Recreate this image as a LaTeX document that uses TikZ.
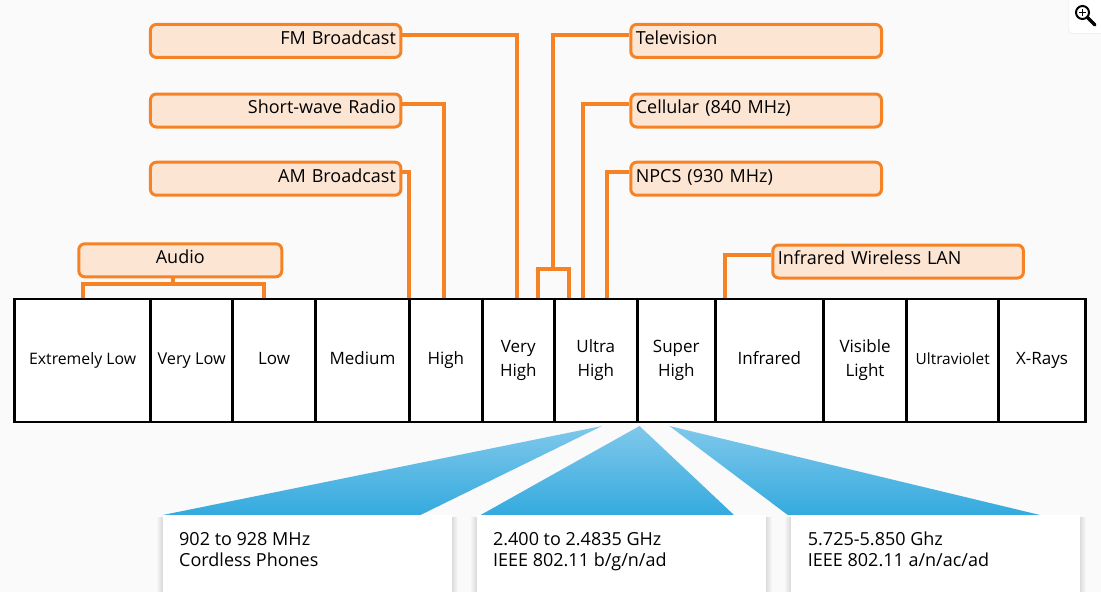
\documentclass[tikz,border=0pt]{standalone}
\usepackage{fontspec}
\setmainfont{Open Sans}
\usetikzlibrary{calc}
\definecolor{bgc}{RGB}{250,250,250}
\definecolor{org}{RGB}{245,131,38}
\definecolor{peach}{RGB}{253,229,211}
\definecolor{bluetop}{RGB}{128,200,235}
\definecolor{bluebot}{RGB}{52,170,222}
\definecolor{iconborder}{RGB}{232,232,232}
\pgfdeclarelayer{back}
\pgfdeclarelayer{wires}
\pgfsetlayers{back,wires,main}
\tikzset{
  tag/.style={draw=org, fill=peach, line width=3pt, rounded corners=6pt, minimum height=33pt,
    inner xsep=5pt, inner ysep=0pt, text height=10pt, text depth=3.4pt, font=\fontsize{18}{21}\selectfont},
  tagL/.style={tag, minimum width=250.5pt, text width=240.5pt, align=right},
  tagR/.style={tag, minimum width=250.7pt, text width=240.7pt, align=left},
  conn/.style={draw=org, line width=4pt},
  band/.style={draw=black, fill=white, line width=2.8pt, minimum height=123pt, inner sep=0pt},
  bandtxt/.style={font=\fontsize{17}{23.5}\selectfont, align=center, inner sep=0pt},
  smalltxt/.style={font=\fontsize{15.8}{20}\selectfont, inner sep=0pt},
  info/.style={fill=white, inner sep=0pt, minimum height=90pt, minimum width=289pt, anchor=north west},
  infotxt/.style={font=\fontsize{18}{21.7}\selectfont, align=left, inner sep=0pt, anchor=base west},
  fan/.style={top color=bluetop, bottom color=bluebot},
}
\begin{document}
\begin{tikzpicture}[x=1pt,y=-1pt]
\begin{pgfonlayer}{back}
\fill[bgc] (0,0) rectangle (1101,592);
\end{pgfonlayer}
\useasboundingbox (0,0) rectangle (1101,592);

% label boxes
\node[tagL] (fm) at (275.65,40.9) {FM Broadcast};
\node[tagL] (sw) at (275.65,110.5) {Short-wave Radio};
\node[tagL] (am) at (275.65,178.7) {AM Broadcast};
\node[tag, minimum width=203pt, align=center] (audio) at (180.3,260.3) {Audio};
\node[tagR] (tv) at (756.15,40.9) {Television};
\node[tagR] (cell) at (756.15,110.5) {Cellular (840 MHz)};
\node[tagR] (npcs) at (756.15,178.7) {NPCS (930 MHz)};
\node[tagR] (irlan) at (898.1,261.5) {Infrared Wireless LAN};

% band cells
\foreach \n/\a/\b in {c1/14.4/150.8, c2/150.8/232.5, c3/232.5/315.7, c4/315.7/409.3,
  c5/409.3/482.3, c6/482.3/554.3, c7/554.3/637.3, c8/637.3/715.3, c9/715.3/823.4,
  c10/823.4/906.7, c11/906.7/998.7, c12/998.7/1085.3}
  \node[band, minimum width={\b-\a}] (\n) at ({(\a+\b)/2},360.5) {};

\node[smalltxt, anchor=base] at ([yshift=-3.5pt]c1.center) {Extremely Low};
\node[smalltxt, anchor=base, font=\fontsize{16.3}{20}\selectfont] at ([yshift=-3.5pt]c2.center) {Very Low};
\node[bandtxt, anchor=base] at ([yshift=-3.5pt]c3.center) {Low};
\node[bandtxt, anchor=base] at ([yshift=-3.5pt]c4.center) {Medium};
\node[bandtxt, anchor=base] at ([yshift=-3.5pt]c5.center) {High};
\node[bandtxt] at ([yshift=0.2pt]c6.center) {Very\\High};
\node[bandtxt] at ([yshift=0.2pt]c7.center) {Ultra\\High};
\node[bandtxt] at ([yshift=0.2pt]c8.center) {Super\\High};
\node[bandtxt, anchor=base] at ([yshift=-3.5pt]c9.center) {Infrared};
\node[bandtxt] at ([yshift=0.2pt]c10.center) {Visible\\Light};
\node[smalltxt, anchor=base, font=\fontsize{15.4}{20}\selectfont] at ([yshift=-3.5pt]c11.center) {Ultraviolet};
\node[bandtxt, anchor=base] at ([yshift=-3.5pt]c12.center) {X-Rays};

% connectors
\begin{pgfonlayer}{wires}
\coordinate (fmEnd) at (517.3,299);
\coordinate (swEnd) at (443.7,299);
\coordinate (amEnd) at (408.5,299);
\coordinate (tvStem) at (553.3,269);
\coordinate (tvL) at (538.3,299);
\coordinate (tvR) at (569,299);
\coordinate (cellEnd) at (582.8,299);
\coordinate (npcsEnd) at (606.7,299);
\coordinate (irEnd) at (725,299);
\coordinate (audStem) at (173.3,284.3);
\coordinate (audL) at (82.7,299);
\coordinate (audR) at (264,299);
\draw[conn] ([yshift=5.9pt]fm.east) -| (fmEnd);
\draw[conn] ([yshift=6.2pt]sw.east) -| (swEnd);
\draw[conn] ([yshift=7pt]am.east) -| (amEnd);
\draw[conn] ([yshift=5.9pt]tv.west) -| (tvStem);
\draw[conn] (tvL) |- (tvStem) -| (tvR);
\draw[conn] ([yshift=6.2pt]cell.west) -| (cellEnd);
\draw[conn] ([yshift=7pt]npcs.west) -| (npcsEnd);
\draw[conn] ([yshift=6.5pt]irlan.west) -| (irEnd);
\draw[conn] ([xshift=-7pt]audio.south) -- (audStem);
\draw[conn] (audL) |- (audStem) -| (audR);
\end{pgfonlayer}

% fans
\shade[fan] (602,426) -- (162.8,515) -- (420.4,515) -- cycle;
\shade[fan] (639.5,426) -- (480.6,515) -- (734,515) -- cycle;
\shade[fan] (669.4,426) -- (787.8,515) -- (1040,515) -- cycle;

% info boxes with soft side shadows
\foreach \x in {162.8,476.5,790.7}{
  \foreach \i in {1,...,6}{
    \fill[black, opacity=0.02] (\x-\i,517) rectangle (\x+289+\i,600);
  }
}
\node[info] (i1) at (162.8,515) {};
\node[info] (i2) at (476.5,515) {};
\node[info] (i3) at (790.7,515) {};
\node[infotxt] at ([xshift=16.2pt,yshift=-51.7pt]i1.north west) {902 to 928 MHz\\Cordless Phones};
\node[infotxt] at ([xshift=16.4pt,yshift=-51.7pt]i2.north west) {2.400 to 2.4835 GHz\\IEEE 802.11 b/g/n/ad};
\node[infotxt] at ([xshift=17pt,yshift=-51.7pt]i3.north west) {5.725-5.850 Ghz\\IEEE 802.11 a/n/ac/ad};

% zoom icon
\filldraw[fill=white, draw=iconborder, rounded corners=4pt] (1068.5,-6) rectangle (1110,33.3);
\draw[black, line width=2pt] (1082.5,12.5) circle (6.5);
\draw[black, line width=1.8pt] (1079,12.5) -- (1086,12.5) (1082.5,9) -- (1082.5,16);
\draw[black, line width=3.5pt, line cap=round] (1087.5,17.5) -- (1095,25);
\end{tikzpicture}
\end{document}
